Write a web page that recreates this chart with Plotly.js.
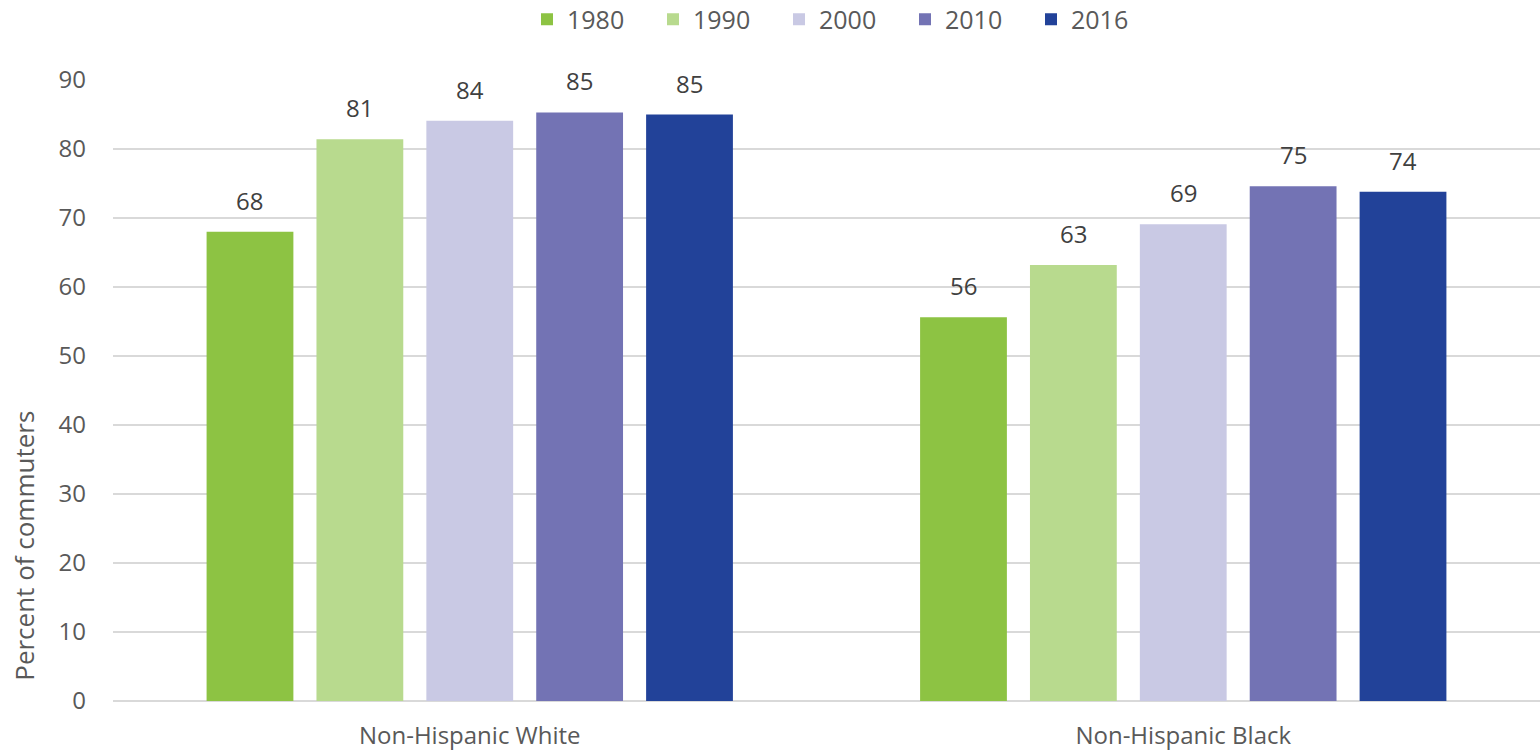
<!DOCTYPE html>
<html>
<head>
<meta charset="utf-8">
<script src="https://cdn.plot.ly/plotly-3.0.1.min.js"></script>
<style>html,body{margin:0;padding:0;background:#fff;}#chart{width:1540px;height:753px;}</style>
</head>
<body>
<div id="chart"></div>
<script>
const categories = ["Non-Hispanic White", "Non-Hispanic Black"];
const years = ["1980", "1990", "2000", "2010", "2016"];
const values1980 = [68.0, 55.6];
const values1990 = [81.4, 63.2];
const values2000 = [84.1, 69.1];
const values2010 = [85.3, 74.6];
const values2016 = [85.0, 73.8];
const seriesValues = [values1980, values1990, values2000, values2010, values2016];
const yAxisTitle = "Percent of commuters";
const colors = ["#8DC343", "#B8DA8E", "#C9C9E4", "#7373B4", "#224299"];

const font = "Open Sans, Noto Sans, sans-serif";
const bargap = 0.23;
const nSeries = years.length;
const slot = (1 - bargap) / nSeries;

const traces = years.map((y, i) => ({
  type: "bar",
  name: y,
  x: categories,
  y: seriesValues[i],
  marker: {color: colors[i]},
  hoverinfo: "x+y+name"
}));

// value labels placed above each bar, positioned via the category axis
const annotations = [];
seriesValues.forEach((vals, i) => {
  vals.forEach((v, c) => {
    annotations.push({
      xref: "x", yref: "y",
      x: c + (i - (nSeries - 1) / 2) * slot,
      y: v,
      text: String(Math.round(v)),
      showarrow: false,
      xanchor: "center", yanchor: "bottom",
      yshift: 13,
      font: {family: font, size: 24, color: "#404040"}
    });
  });
});
annotations.push({
  xref: "paper", yref: "paper", x: 0, y: 0.25, xshift: -89,
  xanchor: "center", yanchor: "middle", textangle: -90, showarrow: false,
  text: yAxisTitle,
  font: {family: font, size: 26, color: "#595959"}
});

const layout = {
  width: 1540, height: 753,
  margin: {l: 113, r: 0, t: 80, b: 52, autoexpand: false},
  paper_bgcolor: "#fff", plot_bgcolor: "#fff",
  barmode: "group",
  bargap: bargap,
  bargroupgap: 0.21,
  font: {family: font, color: "#595959", size: 24},
  showlegend: true,
  legend: {orientation: "h", x: 527 / 1540, xanchor: "left", xref: "container", y: 0.974, yanchor: "middle", yref: "container",
           font: {family: font, size: 25, color: "#595959"}, itemwidth: 30, traceorder: "normal",
           entrywidth: 81, entrywidthmode: "pixels"},
  xaxis: {type: "category", showgrid: false, showline: false, ticks: "", zeroline: false,
          ticklabelstandoff: 18,
          tickfont: {family: font, size: 24, color: "#595959"}},
  yaxis: {range: [0, 90], dtick: 10, tick0: 0, showgrid: true, gridcolor: "#D9D9D9", gridwidth: 2,
          zeroline: true, zerolinecolor: "#D9D9D9", zerolinewidth: 2, showline: false, ticks: "",
          ticklen: 0, ticklabelstandoff: 26,
          tickfont: {family: font, size: 24, color: "#595959"}},
  annotations: annotations
};

Plotly.newPlot("chart", traces, layout, {displayModeBar: false, staticPlot: true});
</script>
</body>
</html>
